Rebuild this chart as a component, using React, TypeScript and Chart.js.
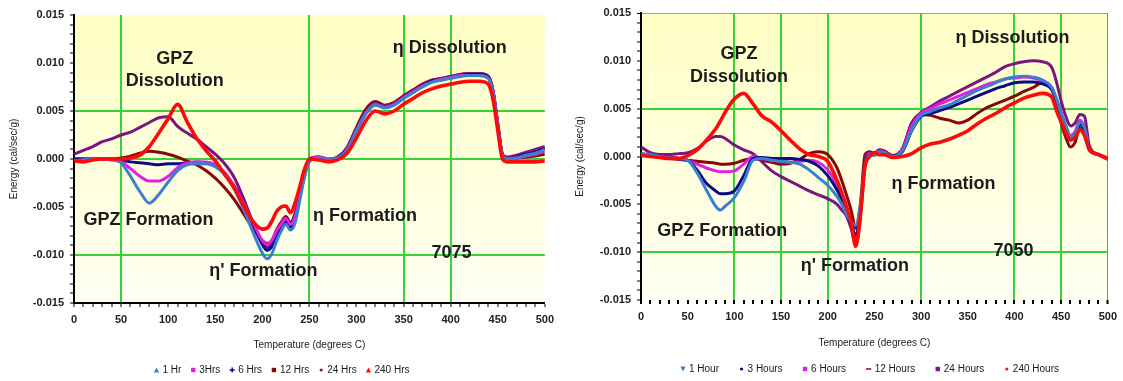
import React, { useEffect, useRef } from 'react';
import { Chart, registerables } from 'chart.js';

Chart.register(...registerables);

const FONT = '"Liberation Sans", Arial, Helvetica, sans-serif';

// ---------------- 7075 panel data ----------------
const TEMPS_7075 = [0,10,20,30,40,50,60,70,80,90,100,110,120,130,140,150,160,170,180,190,200,205,210,215,220,225,230,235,240,245,250,260,270,280,290,300,310,320,330,340,350,360,370,380,390,400,410,420,430,440,445,450,455,460,470,480,490,500];
const LABELS_7075 = ['1 Hr', '3Hrs', '6 Hrs', '12 Hrs', '24 Hrs', '240 Hrs'];

const A7075_1HR = [-0.0002,-0.0001,0,0,0,-0.0004,-0.0018,-0.0034,-0.0046,-0.0037,-0.0024,-0.0012,-0.0006,-0.0005,-0.0005,-0.0008,-0.0016,-0.0031,-0.0052,-0.0076,-0.0098,-0.0104,-0.0099,-0.0086,-0.0075,-0.0068,-0.0074,-0.0066,-0.0042,-0.0018,-0.0003,
  0.0001,-0.0001,0.0001,0.0009,0.0029,0.0047,0.0056,0.0053,0.0056,0.0063,0.0069,0.0075,0.0080,0.0082,0.0084,0.0086,0.0087,0.0087,0.0084,0.0069,0.0035,0.0003,0.0000,0.0001,0.0004,0.0006,0.0010];
const A7075_3HR = [-0.0002,-0.0001,0,0,-0.0001,-0.0003,-0.0010,-0.0018,-0.0023,-0.0023,-0.0018,-0.0009,-0.0004,-0.0003,-0.0003,-0.0006,-0.0014,-0.0028,-0.0046,-0.0066,-0.0085,-0.0089,-0.0085,-0.0075,-0.0068,-0.0062,-0.0068,-0.0060,-0.0038,-0.0015,-0.0002,
  0.0002,0,0.0001,0.0010,0.0030,0.0048,0.0057,0.0054,0.0057,0.0064,0.0070,0.0076,0.0080,0.0083,0.0085,0.0087,0.0087,0.0087,0.0084,0.0070,0.0036,0.0004,0.0000,0.0001,0.0003,0.0005,0.0008];
const A7075_6HR = [0,0,0,0,0,-0.0001,-0.0003,-0.0004,-0.0005,-0.0006,-0.0005,-0.0005,-0.0004,-0.0003,-0.0004,-0.0007,-0.0015,-0.0028,-0.0046,-0.0067,-0.0089,-0.0095,-0.0091,-0.0079,-0.0071,-0.0065,-0.0071,-0.0061,-0.0039,-0.0016,-0.0002,
  0.0001,-0.0001,0.0001,0.0010,0.0030,0.0048,0.0057,0.0054,0.0057,0.0064,0.0070,0.0076,0.0081,0.0083,0.0085,0.0087,0.0088,0.0088,0.0085,0.0070,0.0036,0.0004,0.0000,0.0002,0.0005,0.0007,0.0011];
const A7075_12HR = [0,0,0,0,0,0.0001,0.0003,0.0006,0.0008,0.0007,0.0005,0.0002,-0.0002,-0.0006,-0.0012,-0.0020,-0.0030,-0.0042,-0.0057,-0.0072,-0.0085,-0.0088,-0.0085,-0.0074,-0.0066,-0.0060,-0.0066,-0.0056,-0.0035,-0.0014,0,
  0.0002,0,0.0002,0.0012,0.0033,0.0052,0.0060,0.0056,0.0059,0.0066,0.0072,0.0078,0.0082,0.0084,0.0086,0.0088,0.0089,0.0089,0.0086,0.0071,0.0037,0.0004,0.0000,0.0001,0.0002,0.0003,0.0005];
const A7075_24HR = [0.0005,0.0009,0.0013,0.0018,0.0021,0.0025,0.0028,0.0033,0.0038,0.0043,0.0044,0.0034,0.0027,0.0021,0.0013,0.0005,-0.0005,-0.0019,-0.0041,-0.0066,-0.0087,-0.0092,-0.0088,-0.0077,-0.0068,-0.0062,-0.0068,-0.0058,-0.0036,-0.0015,0,
  0.0002,-0.0001,0.0002,0.0011,0.0031,0.0049,0.0058,0.0055,0.0058,0.0065,0.0071,0.0077,0.0082,0.0084,0.0086,0.0088,0.0089,0.0089,0.0086,0.0071,0.0037,0.0005,0.0002,0.0004,0.0007,0.0010,0.0013];
const A7075_240HR = [-0.0002,-0.0003,-0.0001,0,0,0,0.0001,0.0004,0.0013,0.0027,0.0042,0.0057,0.0039,0.0022,0.0009,-0.0002,-0.0016,-0.0030,-0.0048,-0.0065,-0.0073,-0.0072,-0.0065,-0.0055,-0.0050,-0.0049,-0.0056,-0.0045,-0.0028,-0.0010,0,
  -0.0001,-0.0003,-0.0001,0.0006,0.0022,0.0040,0.0050,0.0047,0.0050,0.0057,0.0063,0.0069,0.0073,0.0076,0.0078,0.0080,0.0081,0.0081,0.0078,0.0062,0.0030,0.0000,-0.0003,-0.0003,-0.0003,-0.0003,-0.0002];

// ---------------- 7050 panel data ----------------
const TEMPS_7050 = [0,10,20,30,40,50,60,70,80,85,90,100,110,120,130,140,150,160,170,180,190,200,210,215,220,225,230,235,240,245,250,255,260,270,280,290,300,310,320,330,340,350,360,370,380,390,400,410,420,430,440,445,450,455,460,465,470,475,480,490,500];
const LABELS_7050 = ['1 Hour', '3 Hours', '6 Hours', '12 Hours', '24 Hours', '240 Hours'];

const B7050_1H = [0.0003,0.0002,0,-0.0001,-0.0002,-0.0004,-0.0017,-0.0035,-0.0052,-0.0056,
  -0.0052,-0.0043,-0.0026,-0.0004,-0.0002,-0.0004,-0.0005,-0.0006,-0.0008,-0.0014,-0.0022,-0.0030,-0.0042,
  -0.0050,-0.0060,-0.0068,-0.0072,-0.0050,-0.0010,0.0002,0.0001,0.0005,0.0004,
  0.0000,0.0006,0.0028,0.0043,0.0047,0.0051,0.0054,0.0059,0.0064,0.0069,0.0073,0.0077,0.0081,0.0083,0.0084,0.0083,0.0080,0.0072,
  0.0060,0.0045,0.0032,0.0020,0.0025,0.0036,0.0030,0.0008,0.0002,-0.0002];
const B7050_3H = [0.0003,0.0001,0,-0.0001,-0.0002,-0.0004,-0.0014,-0.0028,-0.0036,-0.0039,
  -0.0039,-0.0036,-0.0020,-0.0002,-0.0001,-0.0002,-0.0002,-0.0002,-0.0003,-0.0005,-0.0010,-0.0020,-0.0035,
  -0.0045,-0.0057,-0.0070,-0.0082,-0.0055,-0.0008,0.0002,0.0002,0.0005,0.0004,
  0.0000,0.0005,0.0027,0.0042,0.0045,0.0048,0.0051,0.0055,0.0059,0.0063,0.0067,0.0071,0.0074,0.0077,0.0078,0.0078,0.0076,0.0070,
  0.0058,0.0042,0.0030,0.0018,0.0022,0.0034,0.0028,0.0007,0.0002,-0.0002];
const B7050_6H = [0.0002,0.0001,0,-0.0001,-0.0002,-0.0004,-0.0008,-0.0012,-0.0015,-0.0016,
  -0.0016,-0.0015,-0.0008,0.0000,-0.0002,-0.0004,-0.0005,-0.0006,-0.0005,-0.0004,-0.0006,-0.0014,-0.0030,
  -0.0042,-0.0055,-0.0070,-0.0088,-0.0058,-0.0008,0.0003,0.0002,0.0006,0.0005,
  0.0000,0.0007,0.0032,0.0045,0.0050,0.0055,0.0059,0.0063,0.0067,0.0071,0.0075,0.0078,0.0081,0.0082,0.0083,0.0082,0.0079,0.0072,
  0.0060,0.0046,0.0032,0.0022,0.0026,0.0038,0.0030,0.0008,0.0002,-0.0003];
const B7050_12H = [0.0002,0.0001,0,-0.0002,-0.0003,-0.0004,-0.0005,-0.0006,-0.0007,-0.0008,
  -0.0008,-0.0007,-0.0004,-0.0002,-0.0004,-0.0006,-0.0008,-0.0007,-0.0003,0.0003,0.0005,0.0002,-0.0012,
  -0.0025,-0.0040,-0.0056,-0.0075,-0.0050,0.0002,0.0005,0.0003,0.0007,0.0006,
  0.0001,0.0008,0.0035,0.0044,0.0043,0.0040,0.0038,0.0035,0.0038,0.0045,0.0051,0.0055,0.0059,0.0063,0.0068,0.0072,0.0077,0.0070,
  0.0055,0.0035,0.0020,0.0010,0.0015,0.0030,0.0025,0.0008,0.0002,-0.0002];
const B7050_24H = [0.0010,0.0004,0.0002,0.0002,0.0003,0.0004,0.0008,0.0016,0.0021,0.0021,
  0.0019,0.0012,0.0007,0.0003,-0.0006,-0.0015,-0.0021,-0.0026,-0.0031,-0.0036,-0.0040,-0.0044,-0.0050,
  -0.0056,-0.0062,-0.0075,-0.0092,-0.0065,-0.0005,0.0004,0.0002,0.0006,0.0005,
  0.0000,0.0008,0.0035,0.0046,0.0052,0.0058,0.0063,0.0068,0.0073,0.0078,0.0083,0.0088,0.0094,0.0097,0.0099,0.0100,0.0099,0.0093,
  0.0078,0.0058,0.0042,0.0032,0.0035,0.0044,0.0042,0.0012,0.0002,-0.0003];
const B7050_240H = [0.0001,0,-0.0001,-0.0002,-0.0002,0.0001,0.0007,0.0017,0.0029,0.0037,
  0.0046,0.0060,0.0066,0.0055,0.0042,0.0036,0.0027,0.0017,0.0008,0.0002,0.0000,-0.0005,-0.0025,
  -0.0038,-0.0052,-0.0068,-0.0094,-0.0060,-0.0010,0.0000,0.0004,0.0002,0.0002,
  -0.0001,0.0000,0.0003,0.0009,0.0013,0.0015,0.0018,0.0022,0.0027,0.0034,0.0040,0.0045,0.0051,0.0056,0.0061,0.0064,0.0066,0.0062,
  0.0048,0.0036,0.0025,0.0017,0.0020,0.0028,0.0022,0.0008,0.0002,-0.0002];

const X_TITLE = 'Temperature (degrees C)';
const Y_TITLE = 'Energy (cal/sec/g)';

const BLUE = '#3b7fcf';
const MAGENTA = '#e41ee4';
const NAVY = '#0a0a86';
const MAROON = '#870808';
const PURPLE = '#7c167f';
const RED = '#ff0a0a';
const GREEN = '#37d237';

type Note = { text: string; x: number; y: number };

type PanelCfg = {
  temps: number[];
  series: number[][];
  labels: string[];
  colors: string[];
  markers: string[];
  orders: number[];
  width: number;
  padRight: number;
  padTop: number;
  plotLeft: number;
  plotBottom: number;
  xGreen: number[];
  xGray: number[];
  yGreen: number[];
  yGray: number[];
  xBorder: boolean;
  yTitlePad: number;
  xTitlePad: number;
  notes: Note[];
  legendY: number;
  legendCenter: number;
  legendWidth: number;
  legendFont: number;
};

const NOTES_7075: Note[] = [
  { text: 'GPZ', x: 107, y: 0.0104 },
  { text: 'Dissolution', x: 107, y: 0.0081 },
  { text: 'η Dissolution', x: 399, y: 0.0116 },
  { text: 'GPZ Formation', x: 79, y: -0.0064 },
  { text: "η' Formation", x: 201, y: -0.0117 },
  { text: 'η Formation', x: 309, y: -0.0059 },
  { text: '7075', x: 401, y: -0.0098 },
];

const NOTES_7050: Note[] = [
  { text: 'GPZ', x: 105, y: 0.0107 },
  { text: 'Dissolution', x: 105, y: 0.0083 },
  { text: 'η Dissolution', x: 398, y: 0.0124 },
  { text: 'GPZ Formation', x: 87, y: -0.0078 },
  { text: "η' Formation", x: 229, y: -0.0115 },
  { text: 'η Formation', x: 324, y: -0.0029 },
  { text: '7050', x: 399, y: -0.0099 },
];

const P7075: PanelCfg = {
  temps: TEMPS_7075,
  series: [A7075_1HR, A7075_3HR, A7075_6HR, A7075_12HR, A7075_24HR, A7075_240HR],
  labels: LABELS_7075,
  colors: [BLUE, MAGENTA, NAVY, MAROON, PURPLE, RED],
  markers: ['tri', 'sq', 'plus', 'sq', 'dot', 'tri'],
  orders: [1, 2, 3, 5, 4, 0],
  width: 560,
  padRight: 15,
  padTop: 15,
  plotLeft: 74,
  plotBottom: 303,
  xGreen: [50, 250, 350, 400],
  xGray: [],
  yGreen: [5, 0, -10],
  yGray: [],
  xBorder: true,
  yTitlePad: 8,
  xTitlePad: 30,
  notes: NOTES_7075,
  legendY: 370,
  legendCenter: 282,
  legendWidth: 257,
  legendFont: 10,
};

const P7050: PanelCfg = {
  temps: TEMPS_7050,
  series: [B7050_1H, B7050_3H, B7050_6H, B7050_12H, B7050_24H, B7050_240H],
  labels: LABELS_7050,
  colors: [BLUE, NAVY, MAGENTA, MAROON, PURPLE, RED],
  markers: ['tridown', 'dot', 'sq', 'dash', 'sq', 'dot'],
  orders: [1, 2, 3, 5, 4, 0],
  width: 563,
  padRight: 10,
  padTop: 13,
  plotLeft: 81,
  plotBottom: 300,
  xGreen: [100, 150, 200, 300, 400, 450],
  xGray: [500],
  yGreen: [5, -10],
  yGray: [15],
  xBorder: false,
  yTitlePad: 14,
  xTitlePad: 32,
  notes: NOTES_7050,
  legendY: 369,
  legendCenter: 310,
  legendWidth: 380,
  legendFont: 10,
};

function drawMarker(ctx: CanvasRenderingContext2D, shape: string, x: number, y: number, color: string) {
  ctx.save();
  ctx.fillStyle = color;
  ctx.strokeStyle = color;
  ctx.lineWidth = 1.5;
  const s = 2.6;
  ctx.beginPath();
  if (shape === 'tri') {
    ctx.moveTo(x, y - s); ctx.lineTo(x + s, y + s); ctx.lineTo(x - s, y + s); ctx.closePath(); ctx.fill();
  } else if (shape === 'tridown') {
    ctx.moveTo(x - s, y - s); ctx.lineTo(x + s, y - s); ctx.lineTo(x, y + s); ctx.closePath(); ctx.fill();
  } else if (shape === 'sq') {
    ctx.rect(x - 2.2, y - 2.2, 4.4, 4.4); ctx.fill();
  } else if (shape === 'plus') {
    ctx.moveTo(x - s, y); ctx.lineTo(x + s, y); ctx.moveTo(x, y - s); ctx.lineTo(x, y + s); ctx.stroke();
  } else if (shape === 'dash') {
    ctx.moveTo(x - s, y); ctx.lineTo(x + s, y); ctx.stroke();
  } else {
    ctx.arc(x, y, 1.6, 0, Math.PI * 2); ctx.fill();
  }
  ctx.restore();
}

function buildConfig(cfg: PanelCfg): any {
  const bgPlugin = {
    id: 'plotBg',
    beforeDraw(chart: any) {
      const { ctx, chartArea: a } = chart;
      ctx.save();
      ctx.fillStyle = '#ffffff';
      ctx.fillRect(0, 0, chart.width, chart.height);
      const g = ctx.createLinearGradient(0, a.top, 0, a.bottom);
      g.addColorStop(0, '#ffffc4');
      g.addColorStop(1, '#fffff3');
      ctx.fillStyle = g;
      ctx.fillRect(a.left, a.top, a.right - a.left, a.bottom - a.top);
      ctx.restore();
    },
  };

  const notesPlugin = {
    id: 'notes',
    afterDatasetsDraw(chart: any) {
      const { ctx } = chart;
      const xs = chart.scales.x;
      const ys = chart.scales.y;
      ctx.save();
      ctx.font = `bold 18px ${FONT}`;
      ctx.fillStyle = '#1c1c1c';
      ctx.textAlign = 'center';
      ctx.textBaseline = 'middle';
      cfg.notes.forEach((n) => {
        ctx.fillText(n.text, xs.getPixelForValue(n.x), ys.getPixelForValue(n.y));
      });
      ctx.restore();
    },
  };

  const legendPlugin = {
    id: 'bottomLegend',
    afterDraw(chart: any) {
      const { ctx } = chart;
      ctx.save();
      ctx.font = `${cfg.legendFont}px ${FONT}`;
      ctx.textBaseline = 'middle';
      ctx.textAlign = 'left';
      const ds = chart.data.datasets;
      const widths = ds.map((d: any) => 10 + ctx.measureText(d.label).width);
      const total = widths.reduce((s: number, w: number) => s + w, 0);
      const gap = (cfg.legendWidth - total) / (ds.length - 1);
      let x = cfg.legendCenter - cfg.legendWidth / 2;
      ds.forEach((d: any, i: number) => {
        drawMarker(ctx, cfg.markers[i], x + 3, cfg.legendY, d.borderColor);
        ctx.fillStyle = '#1a1a1a';
        ctx.fillText(d.label, x + 9, cfg.legendY);
        x += widths[i] + gap;
      });
      ctx.restore();
    },
  };

  const tickFont = { family: FONT, size: 11, weight: 'bold' as const };

  return {
    type: 'line',
    data: {
      datasets: cfg.series.map((s, i) => ({
        label: cfg.labels[i],
        data: cfg.temps.map((t, j) => ({ x: t, y: s[j] })),
        borderColor: cfg.colors[i],
        backgroundColor: cfg.colors[i],
        borderWidth: i === 5 ? 3.6 : 3,
        pointRadius: 0,
        fill: false,
        cubicInterpolationMode: 'monotone',
        borderJoinStyle: 'round',
        order: cfg.orders[i],
      })),
    },
    options: {
      animation: false,
      responsive: false,
      maintainAspectRatio: false,
      events: [],
      layout: { padding: { left: 0, right: cfg.padRight, top: cfg.padTop, bottom: 0 } },
      plugins: { legend: { display: false }, tooltip: { enabled: false }, title: { display: false } },
      scales: {
        x: {
          type: 'linear',
          min: 0,
          max: 500,
          ticks: {
            stepSize: 10,
            autoSkip: false,
            maxRotation: 0,
            padding: 6,
            color: '#222',
            font: tickFont,
            callback: (v: any) => (Math.round(Number(v)) % 50 === 0 ? String(Math.round(Number(v))) : ''),
          },
          grid: {
            color: (c: any) => {
              const v = Math.round(c.tick?.value ?? -1);
              if (cfg.xGreen.includes(v)) return GREEN;
              if (cfg.xGray.includes(v)) return '#8a8a8a';
              return 'rgba(0,0,0,0)';
            },
            lineWidth: (c: any) => {
              const v = Math.round(c.tick?.value ?? -1);
              if (cfg.xGreen.includes(v)) return 2;
              if (cfg.xGray.includes(v)) return 1;
              return 0;
            },
            drawTicks: true,
            tickLength: 4,
            tickColor: '#000',
            tickWidth: cfg.xBorder ? 1 : 2,
          },
          border: { display: cfg.xBorder, color: '#000', width: 2 },
          title: {
            display: true,
            text: X_TITLE,
            color: '#222',
            font: { family: FONT, size: 10 },
            padding: { top: 0, bottom: cfg.xTitlePad },
          },
          afterFit: (s: any) => {
            s.height = 381 - cfg.plotBottom;
          },
        },
        y: {
          type: 'linear',
          min: -0.015,
          max: 0.015,
          ticks: {
            stepSize: 0.001,
            autoSkip: false,
            padding: 6,
            color: '#222',
            font: tickFont,
            callback: (v: any) => {
              const k = Math.round(Number(v) * 1000);
              return k % 5 === 0 ? (k / 1000).toFixed(3) : '';
            },
          },
          grid: {
            color: (c: any) => {
              const k = Math.round((c.tick?.value ?? 1) * 1000);
              if (cfg.yGreen.includes(k)) return GREEN;
              if (cfg.yGray.includes(k)) return '#9a9a9a';
              return 'rgba(0,0,0,0)';
            },
            lineWidth: (c: any) => {
              const k = Math.round((c.tick?.value ?? 1) * 1000);
              if (cfg.yGreen.includes(k)) return 2;
              if (cfg.yGray.includes(k)) return 1;
              return 0;
            },
            drawTicks: true,
            tickLength: 4,
            tickColor: '#000',
            tickWidth: 1,
          },
          border: { display: true, color: '#000', width: 2 },
          title: {
            display: true,
            text: Y_TITLE,
            color: '#222',
            font: { family: FONT, size: 10 },
            padding: { top: cfg.yTitlePad, bottom: 0 },
          },
          afterFit: (s: any) => {
            s.width = cfg.plotLeft;
          },
        },
      },
    },
    plugins: [bgPlugin, notesPlugin, legendPlugin],
  };
}

function Panel({ cfg }: { cfg: PanelCfg }) {
  const ref = useRef<HTMLCanvasElement>(null);
  useEffect(() => {
    if (!ref.current) return;
    const chart = new Chart(ref.current, buildConfig(cfg));
    return () => chart.destroy();
  }, [cfg]);
  return (
    <canvas
      ref={ref}
      width={cfg.width}
      height={381}
      style={{ display: 'block', width: cfg.width, height: 381 }}
    />
  );
}

export default function App() {
  return (
    <div
      style={{
        position: 'fixed',
        left: 0,
        top: 0,
        width: 1123,
        height: 381,
        background: '#fff',
        display: 'flex',
        overflow: 'hidden',
      }}
    >
      <Panel cfg={P7075} />
      <Panel cfg={P7050} />
    </div>
  );
}
